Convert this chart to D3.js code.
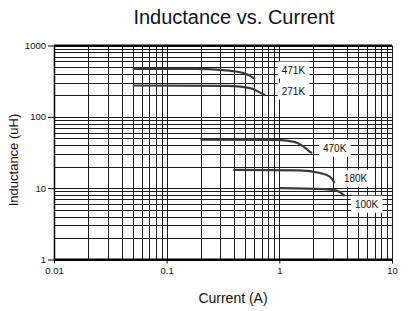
<!DOCTYPE html>
<html><head><meta charset="utf-8">
<script src="https://cdn.jsdelivr.net/npm/d3@7"></script>
<style>html,body{margin:0;padding:0;background:#fff;}svg{display:block;font-family:"Liberation Sans",Arial,sans-serif;}</style>
</head><body>
<script>
const xTicks = [0.01, 0.1, 1, 10];
const xTickLabels = ["0.01", "0.1", "1", "10"];
const yTicks = [1, 10, 100, 1000];
const yTickLabels = ["1", "10", "100", "1000"];
const seriesNames = ["471K", "271K", "470K", "180K", "100K"];
const s471K = [[0.05,470],[0.18,470],[0.3,455],[0.4,435],[0.48,410],[0.55,375],[0.61,340]];
const s271K = [[0.05,275],[0.35,272],[0.45,265],[0.58,245],[0.66,222],[0.75,200]];
const s470K = [[0.2,48],[0.9,47.5],[1.2,46],[1.45,43],[1.65,38],[1.8,34],[1.95,31]];
const s180K = [[0.39,18],[1.5,17.8],[2.3,16.3],[2.8,14.5],[3.1,11.8]];
const s100K = [[1.0,10],[2.5,9.7],[3.1,9.4],[3.4,8.9],[3.8,7.8]];
const seriesData = [s471K, s271K, s470K, s180K, s100K];
const labelAnchors = [[1.05,440],[1.05,223],[2.44,35.3],[3.74,13.4],[4.69,5.8]];

const W = 408, H = 311;
const svg = d3.select("body").append("svg").attr("width", W).attr("height", H);
const x = d3.scaleLog().domain([0.01, 10]).range([54, 392]);
const y = d3.scaleLog().domain([1, 1000]).range([259.5, 45.5]);

// grid
const gridX = [], gridY = [];
for (const d of [0.01, 0.1, 1]) for (let k = 1; k <= 9; k++) gridX.push(d * k);
gridX.push(10);
for (const d of [1, 10, 100]) for (let k = 1; k <= 9; k++) gridY.push(d * k);
gridY.push(1000);
const px = v => Math.round(v) + 0.5;
const g = svg.append("g");
g.selectAll("line.gx").data(gridX).join("line")
  .attr("x1", d => px(x(d))).attr("x2", d => px(x(d)))
  .attr("y1", y(1000)).attr("y2", y(1))
  .attr("stroke", "#1a1a1a").attr("stroke-width", 1);
g.selectAll("line.gy").data(gridY).join("line")
  .attr("y1", d => px(y(d))).attr("y2", d => px(y(d)))
  .attr("x1", x(0.01)).attr("x2", x(10))
  .attr("stroke", "#1a1a1a").attr("stroke-width", 1);
svg.append("line").attr("x1", x(0.01)).attr("x2", x(10)).attr("y1", y(1000)).attr("y2", y(1000)).attr("stroke", "#000").attr("stroke-width", 2);
svg.append("line").attr("x1", x(0.01)).attr("x2", x(10)).attr("y1", y(1)).attr("y2", y(1)).attr("stroke", "#000").attr("stroke-width", 2);
svg.append("line").attr("x1", px(x(0.01))).attr("x2", px(x(0.01))).attr("y1", y(1000)).attr("y2", y(1)).attr("stroke", "#000").attr("stroke-width", 1.5);

// axes
const xAxis = d3.axisBottom(x).tickValues(xTicks).tickFormat((d, i) => xTickLabels[i]).tickSize(4).tickPadding(4);
const ax = svg.append("g").attr("transform", `translate(0,${y(1)})`).call(xAxis);
ax.select(".domain").remove();
ax.selectAll("text").attr("font-size", 9.5).attr("fill", "#111").attr("font-family", "Liberation Sans, Arial, sans-serif");
ax.selectAll("line").attr("stroke", "#000");
const yAxis = d3.axisLeft(y).tickValues(yTicks).tickFormat((d, i) => yTickLabels[i]).tickSize(6).tickPadding(2);
const ay = svg.append("g").attr("transform", `translate(${x(0.01)},0)`).call(yAxis);
ay.select(".domain").remove();
ay.selectAll("text").attr("font-size", 9.5).attr("fill", "#111").attr("font-family", "Liberation Sans, Arial, sans-serif");
ay.selectAll("line").attr("stroke", "#000");

// curves
const line = d3.line().x(d => x(d[0])).y(d => y(d[1])).curve(d3.curveMonotoneX);
svg.selectAll("path.s").data(seriesData).join("path")
  .attr("d", line).attr("fill", "none").attr("stroke", "#3a3a3a").attr("stroke-width", 2.2);

// labels with white boxes
seriesNames.forEach((n, i) => {
  const a = labelAnchors[i];
  const t = svg.append("text").attr("x", x(a[0])).attr("y", y(a[1]))
    .attr("font-size", 10).attr("fill", "#111").attr("dominant-baseline", "middle").text(n);
  const b = t.node().getBBox();
  svg.insert("rect", () => t.node()).attr("x", b.x - 4).attr("y", b.y - 3).attr("width", b.width + 8).attr("height", b.height + 6).attr("fill", "#fff");
});

// titles
svg.append("text").attr("x", 234).attr("y", 24).attr("text-anchor", "middle").attr("font-size", 20).attr("fill", "#111").text("Inductance vs. Current");
svg.append("text").attr("x", 233).attr("y", 303).attr("text-anchor", "middle").attr("font-size", 14).attr("fill", "#111").text("Current (A)");
svg.append("text").attr("transform", "translate(18,160) rotate(-90)").attr("text-anchor", "middle").attr("font-size", 13).attr("fill", "#111").text("Inductance (uH)");
</script>
</body></html>
